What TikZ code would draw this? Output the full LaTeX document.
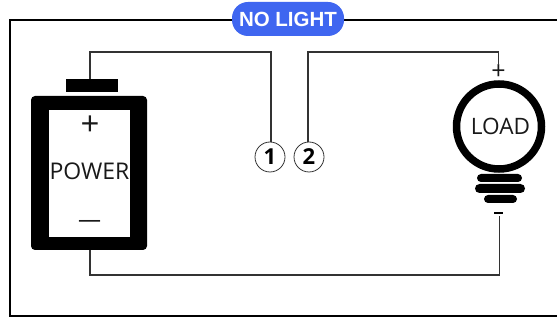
\documentclass[tikz,border=0pt]{standalone}
\usepackage{fontspec}
\setmainfont{Open Sans}
\newfontfamily\pillfont{Liberation Sans}
\definecolor{pillblue}{HTML}{3F66F0}
\definecolor{wiregray}{HTML}{333333}
\tikzset{
  wire/.style={draw=wiregray,line width=1.3pt},
  framepath/.style={draw=black,line width=2.2pt},
  solidbar/.style={fill=black,draw=none},
  numcircle/.style={circle,draw=wiregray,fill=white,line width=0.8pt,minimum size=30pt,inner sep=0pt,font=\bfseries\fontsize{22}{22}\selectfont},
  pill/.style={rounded corners=16pt,fill=pillblue,text=white,minimum width=112pt,minimum height=34pt,inner sep=0pt,font=\pillfont\bfseries\fontsize{20.5}{20.5}\selectfont},
  lab/.style={inner sep=0pt,text=black!90,font=\fontsize{23}{23}\selectfont}
}
\begin{document}
\begin{tikzpicture}[x=1pt,y=-1pt]
\useasboundingbox (0,0) rectangle (557,320);
\fill[white] (0,0) rectangle (557,320);
% frame
\coordinate (fa) at (557,20);
\coordinate (fb) at (10,20);
\coordinate (fc) at (10,316);
\coordinate (fd) at (557,316);
\draw[framepath] (fa) -- (fb) -- (fc) -- (fd);
\node[pill] (badge) at (288,19) {NO LIGHT};
% battery
\node[solidbar,minimum width=52pt,minimum height=13pt,inner sep=0pt] (cap) at (92,85.5) {};
\node[solidbar,rounded corners=4pt,minimum width=116pt,minimum height=154pt,inner sep=0pt] (batt) at (89,173) {};
\node[fill=white,draw=none,minimum width=81pt,minimum height=127pt,inner sep=0pt] (cell) at (89.5,173.5) {};
\node[lab,font=\fontsize{33}{33}\selectfont] (plus) at (90,125.5) {+};
\node[lab] (power) at (89.5,171.5) {POWER};
\node[lab] (minus) at (89.5,224) {—};
% bulb
\node[circle,draw=black,line width=7.5pt,minimum size=85pt,inner sep=0pt] (bulb) at (499,126.5) {};
\node[lab,font=\fontsize{22.6}{22.6}\selectfont] (load) at (500.5,126.5) {LOAD};
\node[solidbar,rounded corners=4pt,minimum width=45pt,minimum height=8pt,inner sep=0pt] (b1) at (499.5,178) {};
\node[solidbar,rounded corners=4.5pt,minimum width=50pt,minimum height=9pt,inner sep=0pt] (b2) at (500,188.5) {};
\node[solidbar,rounded corners=4pt,minimum width=33pt,minimum height=8pt,inner sep=0pt] (b3) at (500.5,199) {};
\node[lab,font=\fontsize{25}{25}\selectfont] (lplus) at (498.5,72.5) {+};
\node[solidbar,minimum width=9pt,minimum height=2.4pt,inner sep=0pt] (lminus) at (498.5,213) {};
% switch contacts
\node[numcircle] (n1) at (270,157) {1};
\node[numcircle] (n2) at (309,157) {2};
% wires
\draw[wire] (cap.north -| 90,0) |- (271,52) -- (n1.north -| 271,0);
\draw[wire] (n2.north -| 308,0) |- (498.5,52) -- (lplus.north -| 498.5,0);
\draw[wire] (batt.south -| 90,0) |- (499.5,275) -- (499.5,216);
\end{tikzpicture}
\end{document}
